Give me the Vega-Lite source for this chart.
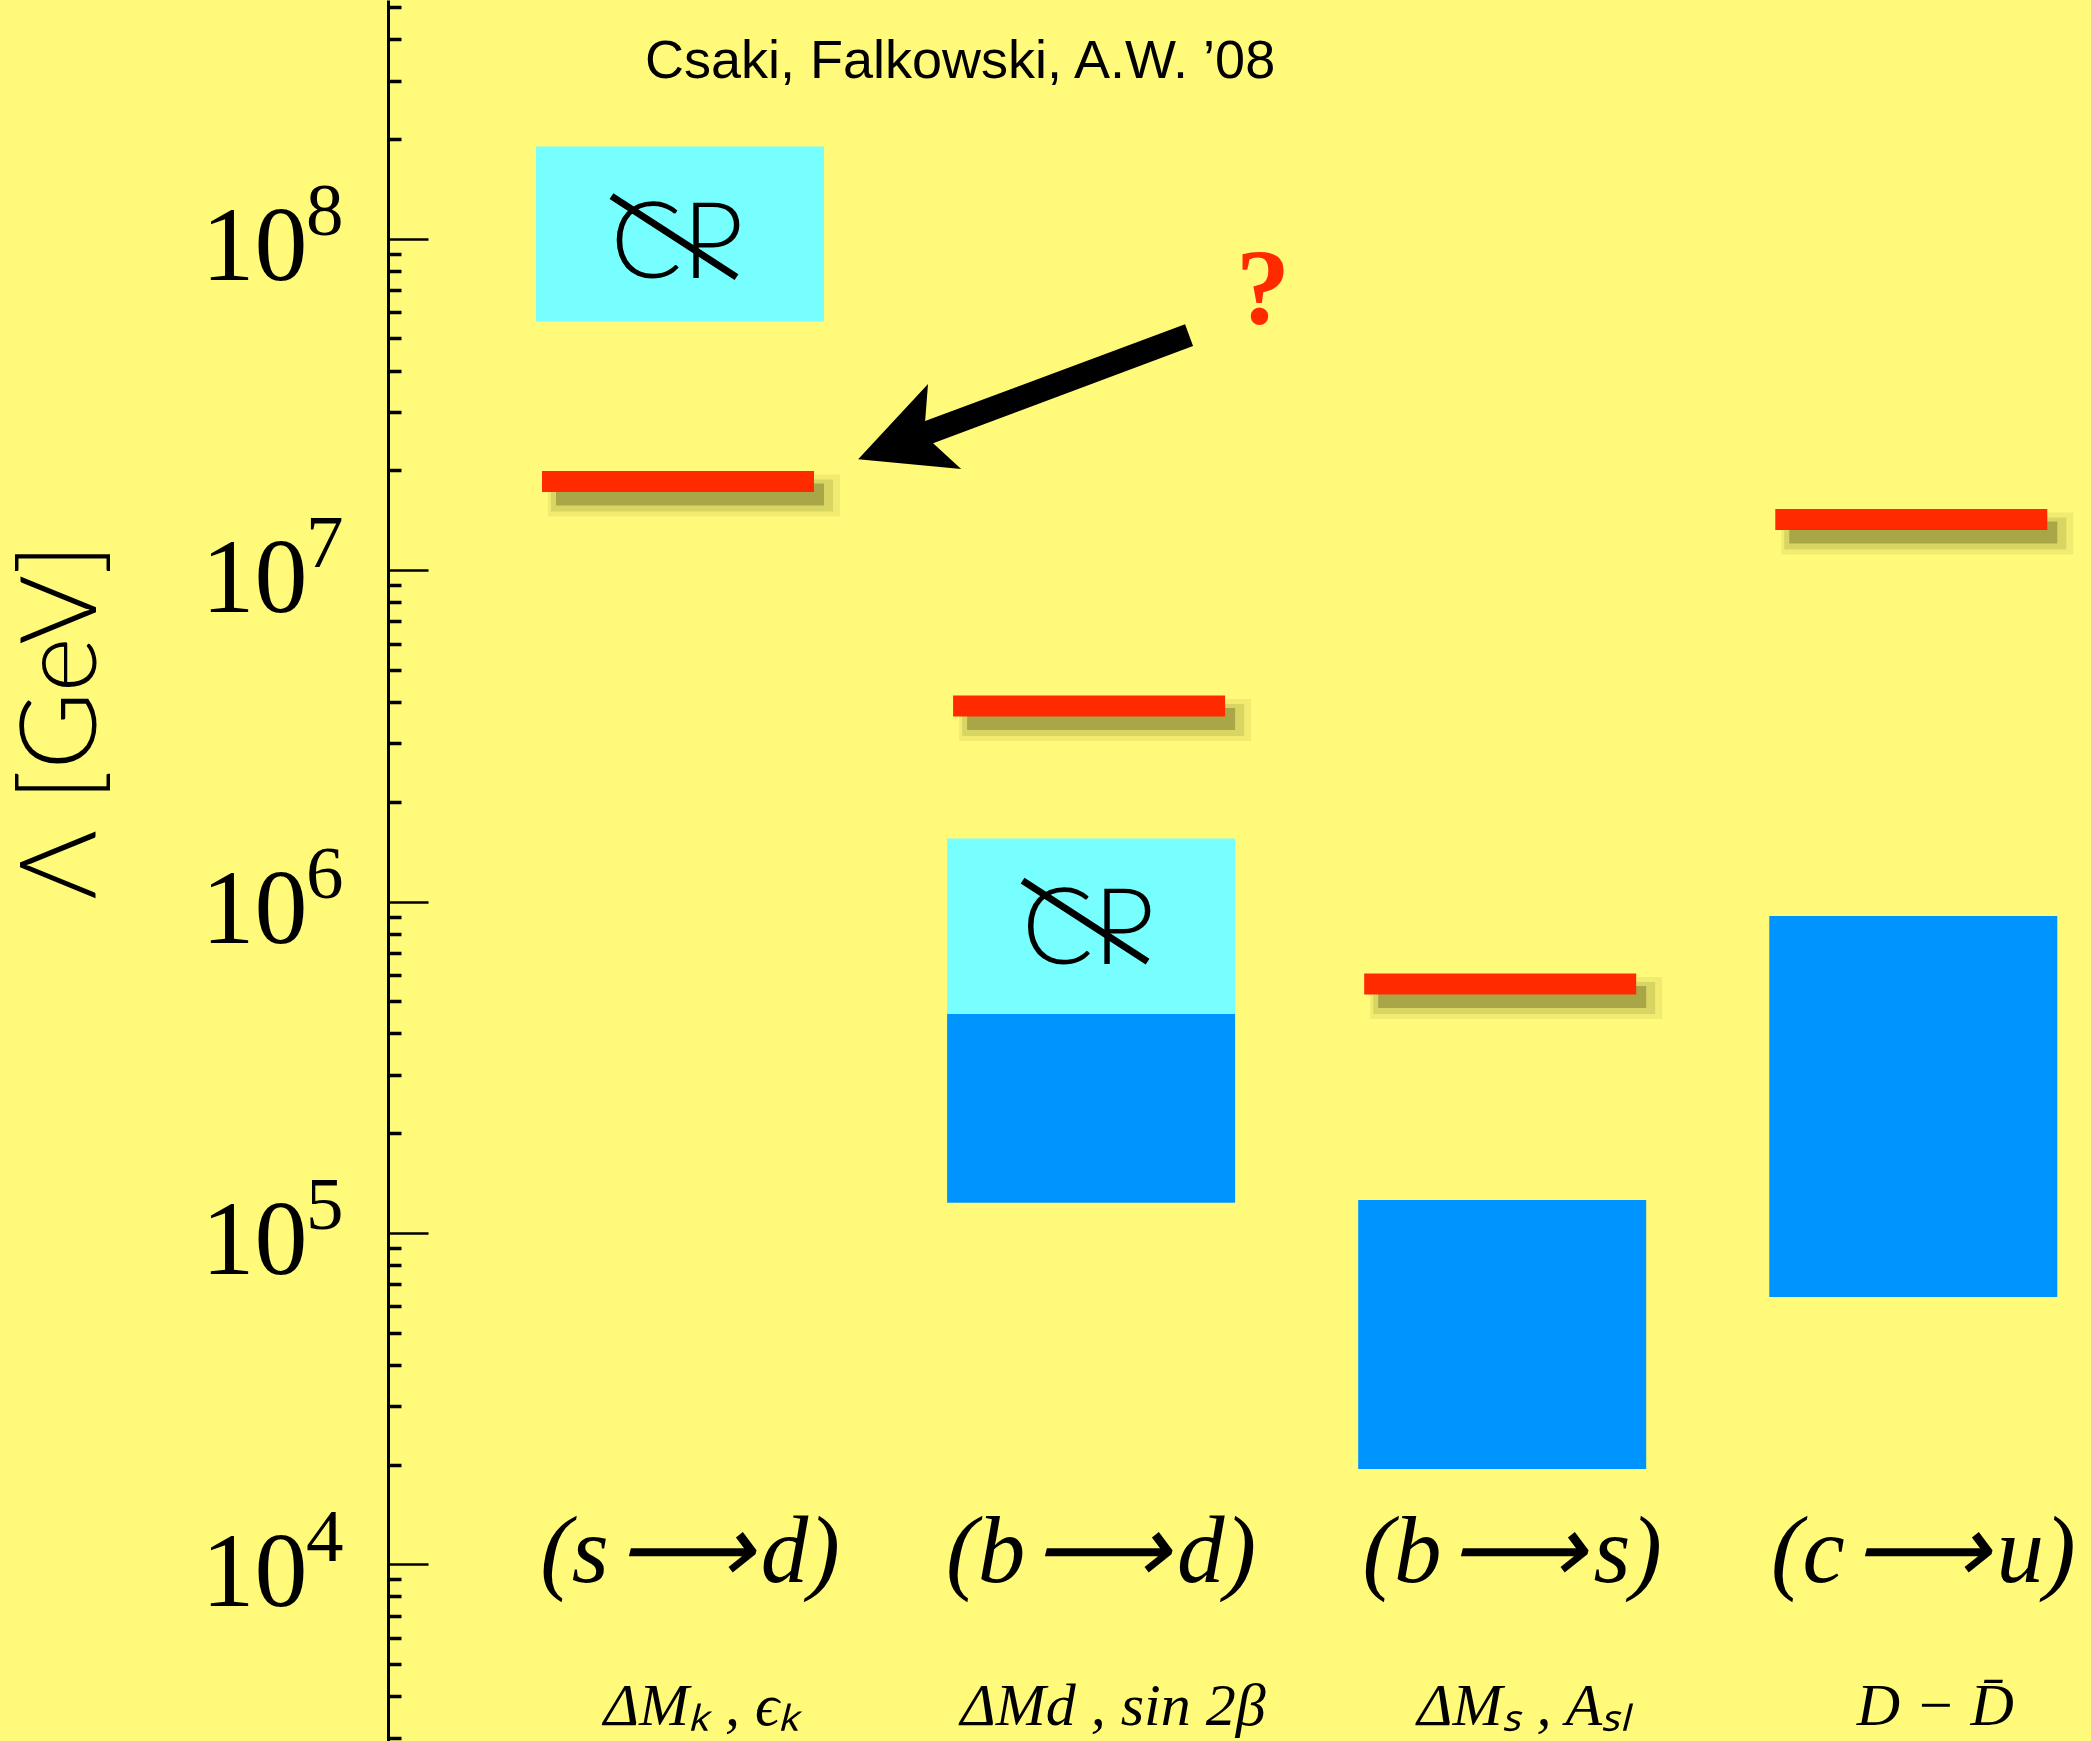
{
  "$schema": "https://vega.github.io/schema/vega-lite/v6.json",
  "width": 1703,
  "height": 1741,
  "autosize": {"type": "none"},
  "padding": {"left": 388, "top": 0, "right": 0, "bottom": 0},
  "background": "#fffa7a",
  "config": {"view": {"stroke": null}},
  "datasets": {
    "boxes": [
      {"proc": "sd", "kind": "CP", "lo": 56300000, "hi": 189700000},
      {"proc": "bd", "kind": "CP", "lo": 458000, "hi": 1549000},
      {"proc": "bd", "kind": "noCP", "lo": 123400, "hi": 458000},
      {"proc": "bs", "kind": "noCP", "lo": 19400, "hi": 125700},
      {"proc": "cu", "kind": "noCP", "lo": 64100, "hi": 904000}
    ],
    "red": [
      {"proc": "sd", "lambda": 18510000},
      {"proc": "bd", "lambda": 3890000},
      {"proc": "bs", "lambda": 564000},
      {"proc": "cu", "lambda": 14220000}
    ],
    "cp": [
      {"proc": "sd", "txt": 76100000, "slash": 101500000, "label": "CP"},
      {"proc": "bd", "txt": 648000, "slash": 873000, "label": "CP"}
    ],
    "labels": [
      {"proc": "sd", "top": "(s\u200a⟶\u200ad)", "bottom": "ΔMₖ ,  ϵₖ"},
      {"proc": "bd", "top": "(b\u200a⟶\u200ad)", "bottom": "ΔMd ,  sin 2β"},
      {"proc": "bs", "top": "(b\u200a⟶\u200as)", "bottom": "ΔMₛ ,  Aₛₗ"},
      {"proc": "cu", "top": "(c\u200a⟶\u200au)", "bottom": "D − D̄"}
    ]
  },
  "resolve": {"axis": {"y": "independent"}},
  "layer": [
    {
      "data": {"name": "boxes"},
      "mark": {"type": "bar"},
      "encoding": {
        "x": {"field": "proc", "type": "nominal", "axis": null,
              "scale": {"type": "band", "domain": ["sd", "bd", "bs", "cu"], "paddingInner": 0.2994, "paddingOuter": 0.221, "align": 0.8145, "round": false}},
        "y": {"field": "lo", "type": "quantitative",
              "scale": {"type": "log", "domain": [2930, 525300000], "nice": false, "zero": false},
              "axis": {
                "orient": "left",
                "values": [3000,4000,5000,6000,7000,8000,9000,10000,20000,30000,40000,50000,60000,70000,80000,90000,100000,200000,300000,400000,500000,600000,700000,800000,900000,1000000,2000000,3000000,4000000,5000000,6000000,7000000,8000000,9000000,10000000,20000000,30000000,40000000,50000000,60000000,70000000,80000000,90000000,100000000,200000000,300000000,400000000,500000000],
                "grid": false,
                "domain": true, "domainColor": "black", "domainWidth": 3,
                "ticks": true, "tickColor": "black",
                "tickSize": {"condition": {"test": "indexof([10000,100000,1000000,10000000,100000000], datum.value) >= 0", "value": -40}, "value": -13},
                "tickWidth": {"condition": {"test": "indexof([10000,100000,1000000,10000000,100000000], datum.value) >= 0", "value": 2.5}, "value": 3.5},
                "labelExpr": "indexof([10000,100000,1000000,10000000,100000000], datum.value) >= 0 ? '10' : ''",
                "labelFont": "Liberation Serif", "labelFontSize": 106, "labelColor": "black",
                "labelPadding": 121, "labelAlign": "right", "labelBaseline": "alphabetic", "labelOffset": 41,
                "labelOverlap": false, "labelBound": false, "labelFlush": false,
                "title": "Λ [GeV]", "titleFont": "Lato", "titleFontWeight": 300, "titleFontSize": 106, "titleColor": "black",
                "titleX": -293, "titleY": 721, "titleAngle": 270, "titleAlign": "center", "titleBaseline": "alphabetic"
              }},
        "y2": {"field": "hi"},
        "color": {"field": "kind", "type": "nominal", "legend": null,
                  "scale": {"domain": ["CP", "noCP"], "range": ["#77ffff", "#0094ff"]}}
      }
    },
    {
      "data": {"name": "red"},
      "mark": {"type": "tick", "orient": "horizontal", "color": "#3a3a05", "opacity": 0.07, "thickness": 42, "size": 292, "xOffset": 14, "yOffset": 14},
      "encoding": {
        "x": {"field": "proc", "type": "nominal", "axis": null},
        "y": {"field": "lambda", "type": "quantitative", "axis": null}
      }
    },
    {
      "data": {"name": "red"},
      "mark": {"type": "tick", "orient": "horizontal", "color": "#3a3a05", "opacity": 0.13, "thickness": 32, "size": 282, "xOffset": 12, "yOffset": 14},
      "encoding": {
        "x": {"field": "proc", "type": "nominal", "axis": null},
        "y": {"field": "lambda", "type": "quantitative", "axis": null}
      }
    },
    {
      "data": {"name": "red"},
      "mark": {"type": "tick", "orient": "horizontal", "color": "#3a3a05", "opacity": 0.3, "thickness": 22, "size": 268, "xOffset": 10, "yOffset": 13},
      "encoding": {
        "x": {"field": "proc", "type": "nominal", "axis": null},
        "y": {"field": "lambda", "type": "quantitative", "axis": null}
      }
    },
    {
      "data": {"name": "red"},
      "mark": {"type": "tick", "orient": "horizontal", "color": "#ff2a00", "opacity": 1, "thickness": 21, "size": 272, "xOffset": -2},
      "encoding": {
        "x": {"field": "proc", "type": "nominal", "axis": null},
        "y": {"field": "lambda", "type": "quantitative", "axis": null}
      }
    },
    {
      "data": {"name": "cp"},
      "mark": {"type": "text", "font": "Lato", "fontWeight": 300, "fontSize": 106, "color": "black", "align": "center", "baseline": "alphabetic", "dx": -3},
      "encoding": {
        "x": {"field": "proc", "type": "nominal", "axis": null},
        "y": {"field": "txt", "type": "quantitative", "axis": null},
        "text": {"field": "label"}
      }
    },
    {
      "data": {"name": "cp"},
      "mark": {"type": "point", "shape": "M-1,-0.648L1,0.648", "filled": false, "stroke": "black", "strokeWidth": 7, "opacity": 1, "size": 15625, "xOffset": -6},
      "encoding": {
        "x": {"field": "proc", "type": "nominal", "axis": null},
        "y": {"field": "slash", "type": "quantitative", "axis": null}
      }
    },
    {
      "data": {"values": [{"proc": "bd", "what": "arrow"}]},
      "mark": {"type": "point", "shape": "M0.938,-0.426L0.985,-0.297L-0.544,0.274L-0.379,0.426L-0.985,0.368L-0.574,-0.074L-0.591,0.144Z", "filled": true, "fill": "black", "strokeWidth": 0, "opacity": 1, "size": 115600, "xOffset": -65.5},
      "encoding": {
        "x": {"field": "proc", "type": "nominal", "axis": null},
        "y": {"datum": 33400000, "type": "quantitative", "axis": null}
      }
    },
    {
      "data": {"values": [{"proc": "bd", "note": "?"}]},
      "mark": {"type": "text", "font": "Liberation Serif", "fontWeight": "bold", "fontSize": 108, "color": "#ff2a00", "align": "center", "baseline": "alphabetic", "dx": 172},
      "encoding": {
        "x": {"field": "proc", "type": "nominal", "axis": null},
        "y": {"datum": 55700000, "type": "quantitative", "axis": null},
        "text": {"field": "note"}
      }
    },
    {
      "data": {"values": [{"proc": "bd", "note": "Csaki, Falkowski, A.W. ’08"}]},
      "mark": {"type": "text", "font": "Liberation Sans", "fontSize": 54, "color": "black", "align": "center", "baseline": "alphabetic", "dx": -131},
      "encoding": {
        "x": {"field": "proc", "type": "nominal", "axis": null},
        "y": {"datum": 305400000, "type": "quantitative", "axis": null},
        "text": {"field": "note"}
      }
    },
    {
      "data": {"name": "labels"},
      "mark": {"type": "text", "font": "Liberation Serif", "fontStyle": "italic", "fontSize": 95, "color": "black", "align": "center", "baseline": "alphabetic", "dx": 10},
      "encoding": {
        "x": {"field": "proc", "type": "nominal", "axis": null},
        "y": {"datum": 8840, "type": "quantitative", "axis": null},
        "text": {"field": "top"}
      }
    },
    {
      "data": {"name": "labels"},
      "mark": {"type": "text", "font": "Liberation Serif", "fontStyle": "italic", "fontSize": 60, "color": "black", "align": "center", "baseline": "alphabetic", "dx": 22},
      "encoding": {
        "x": {"field": "proc", "type": "nominal", "axis": null},
        "y": {"datum": 3276, "type": "quantitative",
              "axis": {
                "orient": "left",
                "values": [10000, 100000, 1000000, 10000000, 100000000],
                "domain": false, "ticks": false, "tickSize": 0, "grid": false,
                "labelExpr": "format(log(datum.value)/LN10, '.0f')",
                "labelFont": "Liberation Serif", "labelFontSize": 75, "labelColor": "black",
                "labelPadding": 45, "labelAlign": "right", "labelBaseline": "alphabetic", "labelOffset": -4,
                "labelOverlap": false, "labelBound": false, "labelFlush": false,
                "title": null
              }},
        "text": {"field": "bottom"}
      }
    }
  ]
}
